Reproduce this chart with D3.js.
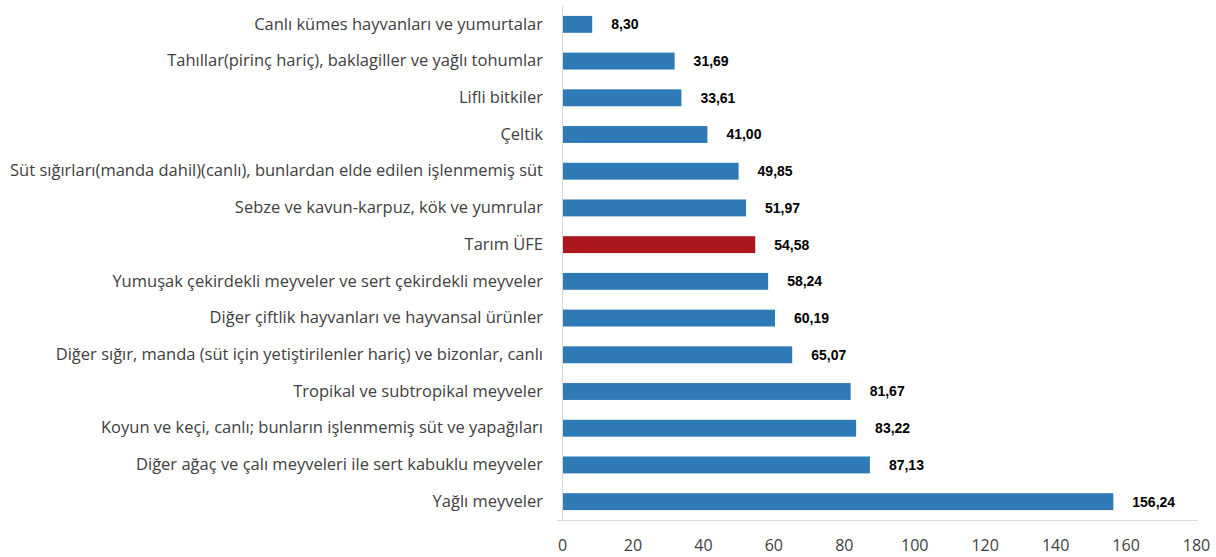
<!DOCTYPE html>
<html>
<head>
<meta charset="utf-8">
<script src="https://cdn.jsdelivr.net/npm/d3@7"></script>
<style>
  body { margin: 0; background: #fff; }
  #chart { width: 1216px; height: 557px; }
</style>
</head>
<body>
<div id="chart"></div>
<script>
// Data, top to bottom
const categories = [
  "Canlı kümes hayvanları ve yumurtalar",
  "Tahıllar(pirinç hariç), baklagiller ve yağlı tohumlar",
  "Lifli bitkiler",
  "Çeltik",
  "Süt sığırları(manda dahil)(canlı), bunlardan elde edilen işlenmemiş süt",
  "Sebze ve kavun-karpuz, kök ve yumrular",
  "Tarım ÜFE",
  "Yumuşak çekirdekli meyveler ve sert çekirdekli meyveler",
  "Diğer çiftlik hayvanları ve hayvansal ürünler",
  "Diğer sığır, manda (süt için yetiştirilenler hariç) ve bizonlar, canlı",
  "Tropikal ve subtropikal meyveler",
  "Koyun ve keçi, canlı; bunların işlenmemiş süt ve yapağıları",
  "Diğer ağaç ve çalı meyveleri ile sert kabuklu meyveler",
  "Yağlı meyveler"
];
const values = [8.30, 31.69, 33.61, 41.00, 49.85, 51.97, 54.58, 58.24, 60.19, 65.07, 81.67, 83.22, 87.13, 156.24];
const highlight = "Tarım ÜFE";
const xTicks = [0, 20, 40, 60, 80, 100, 120, 140, 160, 180];

const data = categories.map((c, i) => ({ name: c, value: values[i] }));

const width = 1216;
const height = 557;
const margin = { top: 6, right: 20, bottom: 37, left: 562 };
const innerW = width - margin.left - margin.right;
const innerH = height - margin.top - margin.bottom;

const svg = d3.select("#chart")
  .append("svg")
  .attr("width", width)
  .attr("height", height);

const g = svg.append("g")
  .attr("transform", `translate(${margin.left},${margin.top})`);

const x = d3.scaleLinear().domain([0, 180]).range([0, 634]);
const y = d3.scaleBand().domain(categories).range([0, innerH]).paddingInner(0.54).paddingOuter(0.27);

// x axis (baseline + labels, no tick marks)
const xAxis = g.append("g")
  .attr("transform", `translate(0,${innerH})`)
  .call(d3.axisBottom(x).tickValues(xTicks).tickSize(0).tickPadding(20).tickFormat(d3.format("d")));
xAxis.select(".domain").attr("stroke", "#d9d9d9").attr("d", `M-5,0.5H${x(180) + 2}`);
xAxis.selectAll("text")
  .attr("font-family", "'Open Sans', sans-serif")
  .attr("font-size", 16)
  .attr("fill", "#404040");

// y axis line
const yAxis = g.append("g")
  .call(d3.axisLeft(y).tickSize(0).tickPadding(19));
yAxis.select(".domain").attr("stroke", "#d9d9d9").attr("d", `M0.5,0V${innerH}`);
yAxis.selectAll("text")
  .attr("font-family", "'Open Sans', sans-serif")
  .attr("font-size", 16.5)
  .attr("fill", "#404040");

// bars
g.selectAll(".bar")
  .data(data)
  .enter()
  .append("rect")
  .attr("class", "bar")
  .attr("x", 1)
  .attr("y", (d) => y(d.name))
  .attr("width", (d) => x(d.value))
  .attr("height", y.bandwidth())
  .attr("fill", (d) => (d.name === highlight ? "#ab151c" : "#2e7ab6"));

// value labels
g.selectAll(".val")
  .data(data)
  .enter()
  .append("text")
  .attr("class", "val")
  .attr("x", (d) => x(d.value) + 20)
  .attr("y", (d) => y(d.name) + y.bandwidth() / 2)
  .attr("dy", "0.35em")
  .attr("font-family", "'Liberation Sans', Arial, sans-serif")
  .attr("font-size", 14)
  .attr("font-weight", "bold")
  .attr("fill", "#000")
  .text((d) => d.value.toFixed(2).replace(".", ","));
</script>
</body>
</html>
